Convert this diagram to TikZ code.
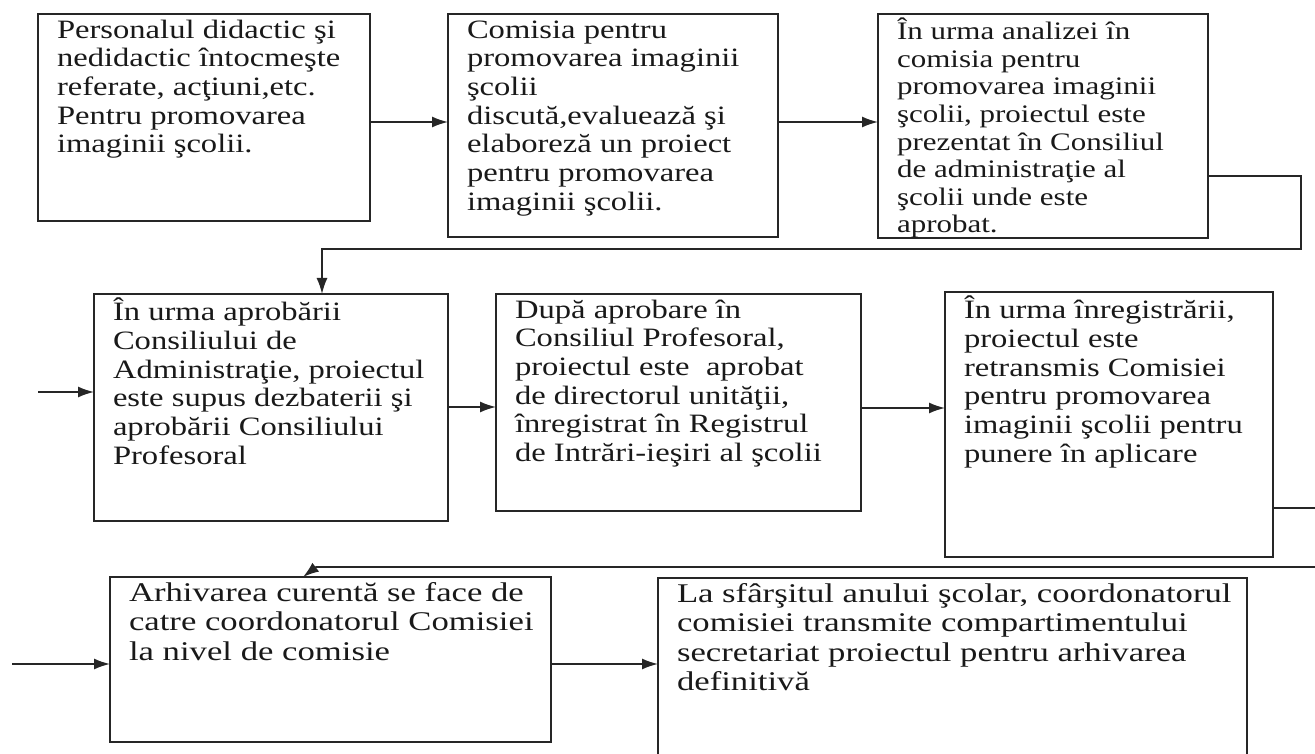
\documentclass[tikz,border=0pt]{standalone}
\usepackage{fontspec}
\setmainfont{Liberation Serif}[FakeStretch=1.23]
\newfontfamily\fwide{Liberation Serif}[FakeStretch=1.285]
\usetikzlibrary{arrows.meta}
% #1 family, #2 font size, #3 baselineskip, #4 height, #5 width, #6 text
\newcommand\boxtext[6][\rmfamily]{\parbox[c][#4][t]{#5}{#1\fontsize{#2}{#3}\selectfont\begin{tabular}[t]{@{}l@{}}#6\end{tabular}}}
\begin{document}
\begin{tikzpicture}[x=1pt,y=-1pt,
  box/.style={draw=black!85, line width=1.9pt, anchor=north west, inner xsep=19pt, inner ysep=4pt, outer sep=0pt, text=black!90},
  conn/.style={draw=black!85, line width=1.6pt},
  arr/.style={conn, -{Latex[length=16pt,width=11pt]}},
]
\useasboundingbox (0,0) rectangle (1315,754);
\clip (0,0) rectangle (1315,754);

\node[box] (b1) at (38,14) {\boxtext{26.5pt}{28.7pt}{199pt}{294pt}{Personalul didactic şi\\ nedidactic întocmeşte\\ referate, acţiuni,etc.\\ Pentru promovarea\\ imaginii şcolii.}};
\node[box] (b2) at (448,14) {\boxtext{26.5pt}{28.7pt}{215pt}{292pt}{Comisia pentru\\ promovarea imaginii\\ şcolii\\ discută,evaluează şi\\ elaboreză un proiect\\ pentru promovarea\\ imaginii şcolii.}};
\node[box] (b3) at (878,14) {\boxtext{25.2pt}{27.6pt}{216pt}{292pt}{În urma analizei în\\ comisia pentru\\ promovarea imaginii\\ şcolii, proiectul este\\ prezentat în Consiliul\\ de administraţie al\\ şcolii unde este\\ aprobat.}};

\node[box] (b4) at (94,294) {\boxtext{26.5pt}{28.7pt}{219pt}{316pt}{În urma aprobării\\ Consiliului de\\ Administraţie, proiectul\\ este supus dezbaterii şi\\ aprobării Consiliului\\ Profesoral}};
\node[box] (b5) at (496,294) {\boxtext{26.5pt}{28.7pt}{209pt}{327pt}{După aprobare în\\ Consiliul Profesoral,\\ proiectul este\ \ aprobat\\ de directorul unităţii,\\ înregistrat în Registrul\\ de Intrări-ieşiri al şcolii}};
\node[box] (b6) at (945,292) {\boxtext{26.5pt}{28.7pt}{257pt}{290pt}{În urma înregistrării,\\ proiectul este\\ retransmis Comisiei\\ pentru promovarea\\ imaginii şcolii pentru\\ punere în aplicare}};

\node[box] (b7) at (110,577) {\boxtext[\fwide]{27pt}{29.4pt}{157pt}{403pt}{Arhivarea curentă se face de\\ catre coordonatorul Comisiei\\ la nivel de comisie}};
\node[box] (b8) at (658,578) {\boxtext[\fwide]{27pt}{29.4pt}{182pt}{551pt}{La sfârşitul anului şcolar, coordonatorul\\ comisiei transmite compartimentului\\ secretariat proiectul pentru arhivarea\\ definitivă}};

% connectors
\coordinate (r1) at (0,122);
\draw[arr] (b1.east |- r1) -- (b2.west |- r1);
\draw[arr] (b2.east |- r1) -- (b3.west |- r1);

\coordinate (k1) at (1301,176);
\coordinate (k2) at (1301,249);
\coordinate (k3) at (322,249);
\draw[arr] (b3.east |- k1) -- (k1) -- (k2) -- (k3) -- (k3 |- b4.north);

\coordinate (in4) at (38,392);
\draw[arr] (in4) -- (b4.west |- in4);
\coordinate (r2) at (0,407);
\draw[arr] (b4.east |- r2) -- (b5.west |- r2);
\coordinate (r3) at (0,408);
\draw[arr] (b5.east |- r3) -- (b6.west |- r3);

\coordinate (k4) at (1330,508);
\coordinate (k5) at (1330,567);
\coordinate (k6) at (316,567);
\coordinate (k7) at (303,0);
\draw[arr] (b6.east |- k4) -- (k4) -- (k5) -- (k6) -- (k7 |- b7.north);

\coordinate (in7) at (12,664);
\draw[arr] (in7) -- (b7.west |- in7);
\draw[arr] (b7.east |- in7) -- (b8.west |- in7);
\end{tikzpicture}
\end{document}
